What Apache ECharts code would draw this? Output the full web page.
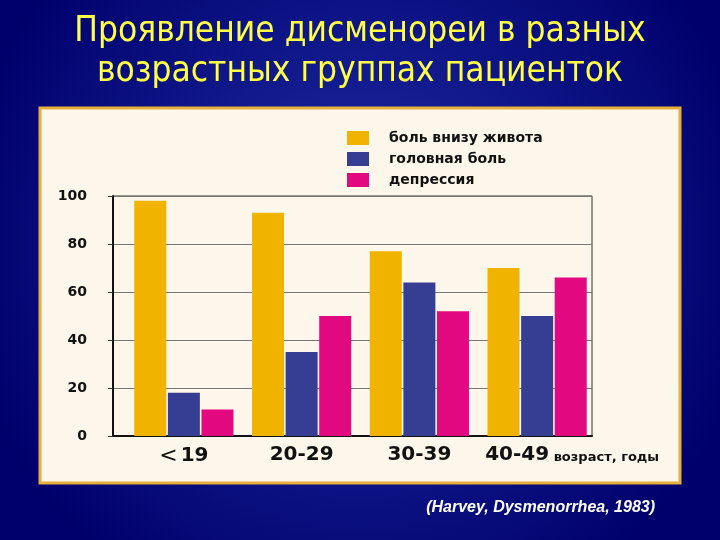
<!DOCTYPE html>
<html><head><meta charset="utf-8">
<script src="https://cdn.jsdelivr.net/npm/echarts@6/dist/echarts.min.js"></script>
<style>html,body{margin:0;padding:0;}#c{width:720px;height:540px;}</style>
</head><body><div id="c"></div>
<script>
const categories = ['<19', '20-29', '30-39', '40-49'];
const seriesNames = ['боль внизу живота', 'головная боль', 'депрессия'];
const painLower = [98, 93, 77, 70];
const headache = [18, 35, 64, 50];
const depression = [11, 50, 52, 66];
const yTicks = [0, 20, 40, 60, 80, 100];
const colors = ['#F0B400', '#363E94', '#E2087F'];

const chart = echarts.init(document.getElementById('c'));
const lab = {fontFamily: 'DejaVu Sans, sans-serif', color: '#111'};
chart.setOption({
  backgroundColor: {
    type: 'radial', x: 0.5, y: 0.45, r: 0.75,
    colorStops: [{offset: 0, color: '#1f2ea6'}, {offset: 1, color: '#00006c'}]
  },
  title: [{
    text: 'Проявление дисменореи в разных\nвозрастных группах пациенток',
    left: 'center', top: 7,
    textStyle: {color: '#FFFF44', fontFamily: 'DejaVu Sans Condensed, DejaVu Sans, sans-serif', fontWeight: 'normal', fontSize: 35, lineHeight: 40}
  }, {
    text: '(Harvey, Dysmenorrhea, 1983)',
    right: 60, top: 495,
    textStyle: {color: '#ffffff', fontFamily: 'Liberation Sans, Arial, sans-serif', fontStyle: 'italic', fontWeight: 'bold', fontSize: 16}
  }],
  graphic: [{
    type: 'rect', z: -10,
    shape: {x: 40, y: 108, width: 640, height: 375},
    style: {fill: '#FDF6EA', stroke: '#E6AE3C', lineWidth: 3}
  }],
  legend: {
    orient: 'vertical', left: 347, top: 131, padding: 0,
    itemWidth: 22, itemHeight: 14, itemGap: 7, icon: 'rect',
    data: seriesNames,
    textStyle: Object.assign({fontSize: 14, fontWeight: 'bold', padding: [0, 0, 0, 15]}, lab)
  },
  grid: [
    {left: 113, right: 128, top: 196, bottom: 104, show: true, borderColor: '#333', borderWidth: 1, backgroundColor: 'transparent'},
    {left: 125, right: 124, top: 196, bottom: 104}
  ],
  xAxis: [
    {gridIndex: 0, type: 'category', data: categories, axisLine: {lineStyle: {color: '#111', width: 2}}, axisTick: {show: false}, axisLabel: {show: false}},
    {gridIndex: 1, type: 'category', data: categories, axisLine: {show: false}, axisTick: {show: false},
     axisLabel: Object.assign({fontSize: 20, fontWeight: 'bold', margin: 9, interval: 0,
       formatter: function (v, i) {
         if (v.charAt(0) === '<') return '{lt|<}{a|' + v.slice(1) + '}';
         return i === 3 ? '{e|' + v + '}{b| возраст, годы}' : '{a|' + v + '}';
       },
       rich: {
         a: Object.assign({fontSize: 20, fontWeight: 'bold'}, lab),
         lt: Object.assign({fontSize: 22, fontWeight: 'normal', padding: [0, 3, 0, 0]}, lab),
         e: Object.assign({fontSize: 20, fontWeight: 'bold', padding: [0, 0, 0, 70]}, lab),
         b: Object.assign({fontSize: 13, fontWeight: 'bold', verticalAlign: 'bottom', padding: [0, 0, 1, 0]}, lab)
       }}, lab)}
  ],
  yAxis: [
    {gridIndex: 0, type: 'value', min: 0, max: 100, interval: 20,
     axisLine: {show: true, lineStyle: {color: '#111', width: 2}},
     axisTick: {show: true, length: 5, lineStyle: {color: '#333'}},
     splitLine: {lineStyle: {color: '#777', width: 1}},
     axisLabel: Object.assign({fontSize: 14, fontWeight: 'bold', margin: 26, formatter: function (v) { return yTicks.indexOf(v) >= 0 ? String(v) : ''; }}, lab)},
    {gridIndex: 1, type: 'value', min: 0, max: 100, show: false}
  ],
  series: [painLower, headache, depression].map(function (d, i) {
    return {name: seriesNames[i], type: 'bar', xAxisIndex: 1, yAxisIndex: 1, data: d, barWidth: 32, barGap: '5%',
            itemStyle: {color: colors[i]}, z: 3};
  })
});
</script></body></html>
